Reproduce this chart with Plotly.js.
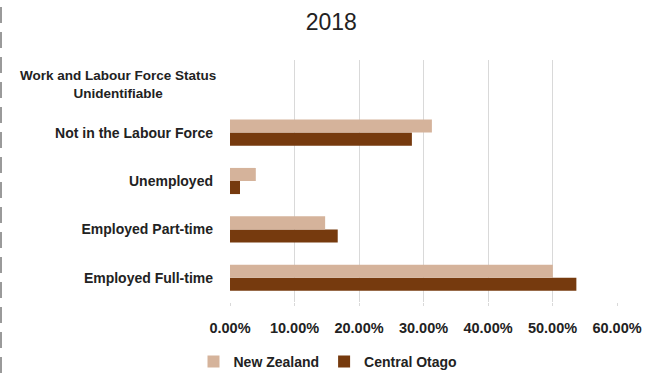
<!DOCTYPE html>
<html><head><meta charset="utf-8">
<script src="https://cdn.plot.ly/plotly-3.0.1.min.js"></script>
<style>html,body{margin:0;padding:0;background:#fff}#chart{width:656px;height:373px}</style>
</head><body><div id="chart"></div>
<script>
const categories = ['Employed Full-time','Employed Part-time','Unemployed','Not in the Labour Force','Work and Labour Force Status<br>Unidentifiable'];
const newZealand = [0.5005, 0.1475, 0.040, 0.313, 0];
const centralOtago = [0.537, 0.167, 0.0155, 0.282, 0];
const xTicks = [0,0.1,0.2,0.3,0.4,0.5,0.6];
const xTickText = ['0.00%','10.00%','20.00%','30.00%','40.00%','50.00%','60.00%'];

const F = 'Liberation Sans, Arial, sans-serif';
const data = [
  {type:'bar', orientation:'h', name:'Central Otago', y:categories, x:centralOtago,
   marker:{color:'#763a0e'}, hoverinfo:'skip'},
  {type:'bar', orientation:'h', name:'New Zealand', y:categories, x:newZealand,
   marker:{color:'#d5b39b'}, hoverinfo:'skip'}
];
const yTickText = categories.map(c => c.includes('<br>') ? '' : c);
const layout = {
  width:656, height:373,
  margin:{l:230, r:39, t:60, b:71, autoexpand:false},
  paper_bgcolor:'#fff', plot_bgcolor:'#fff',
  title:{text:'2018', x:0.505, xanchor:'center', yref:'container', y:1-22/373, yanchor:'middle', font:{family:F, size:23, color:'#222'}},
  barmode:'group', bargap:0.46, bargroupgap:0,
  showlegend:true,
  legend:{orientation:'h', xref:'container', x:0.5, xanchor:'center', yref:'container', y:11/373, yanchor:'middle', traceorder:'reversed',
    font:{family:F, size:14, color:'#222', weight:'bold'}, itemwidth:30},
  xaxis:{range:[0,0.6], tickvals:xTicks, ticktext:xTickText, showgrid:true, gridcolor:'#d9d9d9', gridwidth:1,
    zeroline:false, showline:false, ticks:'outside', ticklen:3, tickcolor:'#d9d9d9', ticklabelstandoff:10,
    automargin:false, tickfont:{family:F, size:14.5, color:'#222', weight:'bold'}, fixedrange:true},
  yaxis:{type:'category', categoryorder:'array', categoryarray:categories, tickvals:categories, ticktext:yTickText,
    showgrid:false, zeroline:false, showline:false, ticks:'', ticklabelstandoff:16, automargin:false,
    tickfont:{family:F, size:14, color:'#222', weight:'bold'}, fixedrange:true},
  annotations:categories.filter(c => c.includes('<br>')).map(c => ({
    text:c, xref:'paper', yref:'y', x:-12/387, y:c, xanchor:'right', yanchor:'middle', align:'center',
    showarrow:false, font:{family:F, size:13.5, color:'#222', weight:'bold'}
  })),
  shapes:[{type:'line', xref:'paper', yref:'paper', x0:-229/387, x1:-229/387, y0:-71/242, y1:1+60/242,
    line:{color:'#9a9a9a', width:2, dash:'16px,9px'}}]
};
Plotly.newPlot('chart', data, layout, {staticPlot:true, displayModeBar:false});
</script></body></html>
